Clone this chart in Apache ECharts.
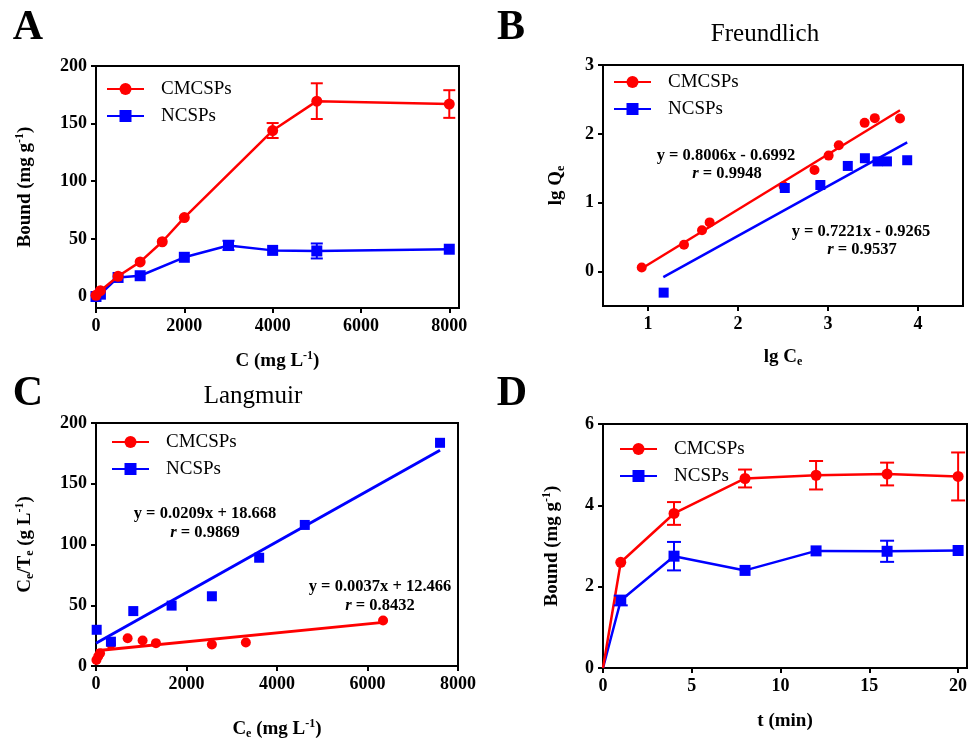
<!DOCTYPE html>
<html><head><meta charset="utf-8">
<script src="https://cdn.jsdelivr.net/npm/echarts@6/dist/echarts.min.js"></script>
<style>html,body{margin:0;padding:0;background:#fff}#c{width:971px;height:739px}</style>
</head><body><div id="c"></div>
<script>
// ---------- Panel A: binding isotherm ----------
const aRedX  = [0, 100, 500, 1000, 1500, 2000, 4000, 5000, 8000];
const aRedY  = [1, 5, 17.5, 30, 47.5, 68.5, 144, 169.5, 167];
const aRedE  = [0, 0, 0, 0, 0, 0, 6.5, 15.5, 12];
const aBlueX = [0, 100, 500, 1000, 2000, 3000, 4000, 5000, 8000];
const aBlueY = [0, 2, 16.5, 18, 34, 44.3, 40, 39.5, 41];
const aBlueE = [0, 0, 0, 0, 0, 4, 0, 6.5, 0];
// ---------- Panel B: Freundlich ----------
const bRedX  = [0.93, 1.40, 1.60, 1.685, 2.507, 2.85, 3.007, 3.12, 3.407, 3.52, 3.80];
const bRedY  = [0.058, 0.39, 0.60, 0.714, 1.24, 1.476, 1.684, 1.835, 2.16, 2.228, 2.223];
const bBlueX = [1.174, 2.52, 2.915, 3.22, 3.41, 3.55, 3.655, 3.88];
const bBlueY = [-0.306, 1.214, 1.257, 1.534, 1.646, 1.60, 1.60, 1.617];
const bRedFitX = [0.93, 3.80],  bRedFitY = [0.045, 2.343];
const bBlueFitX = [1.17, 3.88], bBlueFitY = [-0.082, 1.875];
// ---------- Panel C: Langmuir ----------
const cRedX  = [10, 50, 90, 331, 699, 1030, 1325, 2561, 3312, 6344];
const cRedY  = [5, 8, 10.5, 18.2, 22.9, 21, 18.8, 17.7, 19.3, 37.5];
const cBlueX = [15, 330, 824, 1671, 2561, 3606, 4614, 7603];
const cBlueY = [29.8, 20, 45.2, 49.7, 57.4, 89.1, 116.1, 183.7];
const cRedFitX = [0, 6344],  cRedFitY = [12.47, 35.9];
const cBlueFitX = [0, 7603], cBlueFitY = [18.67, 177.6];
// ---------- Panel D: kinetics ----------
const dX     = [0, 1, 4, 8, 12, 16, 20];
const dRedY  = [0, 2.6, 3.8, 4.66, 4.74, 4.77, 4.71];
const dRedE  = [0, 0, 0.28, 0.22, 0.35, 0.28, 0.59];
const dBlueY = [0, 1.66, 2.75, 2.40, 2.88, 2.87, 2.89];
const dBlueE = [0, 0.12, 0.35, 0, 0, 0.26, 0];
// ---------- tick labels ----------
const aXTicks = [0, 2000, 4000, 6000, 8000], aYTicks = [0, 50, 100, 150, 200];
const bXTicks = [1, 2, 3, 4], bYTicks = [0, 1, 2, 3];
const cXTicks = [0, 2000, 4000, 6000, 8000], cYTicks = [0, 50, 100, 150, 200];
const dXTicks = [0, 5, 10, 15, 20], dYTicks = [0, 2, 4, 6];

const RED = '#ff0000', BLUE = '#0000ff';
const FONT = '"Liberation Serif","Times New Roman",serif';

const zip = (xs, ys) => xs.map((x, i) => [x, ys[i]]);
const errData = (xs, ys, es) => xs.map((x, i) => [x, ys[i] - es[i], ys[i] + es[i]]).filter((d, i) => es[i] > 0);

const richName = {
  sup: {fontSize: 12, fontWeight: 'bold', fontFamily: FONT, verticalAlign: 'top', lineHeight: 22, color: '#000'},
  sub: {fontSize: 12, fontWeight: 'bold', fontFamily: FONT, verticalAlign: 'bottom', lineHeight: 16, color: '#000'}
};
function axis(idx, min, max, ticks, name, gap) {
  return {
    type: 'value', gridIndex: idx, min, max, scale: true,
    name, nameLocation: 'middle', nameGap: gap,
    nameTextStyle: {fontFamily: FONT, fontWeight: 'bold', fontSize: 19, color: '#000', rich: richName, lineHeight: 22},
    axisLine: {show: true, onZero: false, lineStyle: {color: '#000', width: 2}},
    axisTick: {show: true, inside: false, length: 5, lineStyle: {color: '#000', width: 2}, customValues: ticks},
    axisLabel: {color: '#000', fontFamily: FONT, fontWeight: 'bold', fontSize: 18, margin: 9, customValues: ticks,
      formatter: v => String(v)},
    splitLine: {show: false}
  };
}
function errRender(half) {
  return function (params, api) {
    const x = api.value(0), lo = api.value(1), hi = api.value(2);
    const p1 = api.coord([x, hi]), p2 = api.coord([x, lo]);
    const st = {stroke: api.visual('color'), lineWidth: 2};
    return {type: 'group', children: [
      {type: 'line', shape: {x1: p1[0], y1: p1[1], x2: p2[0], y2: p2[1]}, style: st},
      {type: 'line', shape: {x1: p1[0] - half, y1: p1[1], x2: p1[0] + half, y2: p1[1]}, style: st},
      {type: 'line', shape: {x1: p2[0] - half, y1: p2[1], x2: p2[0] + half, y2: p2[1]}, style: st}
    ]};
  };
}
function legend(left, top) {
  return {
    orient: 'vertical', left, top, padding: 0, itemGap: 7, itemWidth: 37, itemHeight: 15,
    data: ['CMCSPs', 'NCSPs'], selectedMode: false,
    textStyle: {fontFamily: FONT, fontSize: 19, color: '#000', lineHeight: 20, padding: [0, 0, 0, 12]}
  };
}
const gridBase = {show: true, borderColor: '#000', borderWidth: 2, backgroundColor: 'transparent', containLabel: false, outerBoundsMode: 'none'};

const series = [
  // A
  {name: 'CMCSPs', type: 'line', xAxisIndex: 0, yAxisIndex: 0, data: zip(aRedX, aRedY), symbol: 'circle', symbolSize: 11,
   itemStyle: {color: RED}, lineStyle: {color: RED, width: 2.5}, z: 3},
  {name: 'NCSPs', type: 'line', xAxisIndex: 0, yAxisIndex: 0, data: zip(aBlueX, aBlueY), symbol: 'rect', symbolSize: 11,
   itemStyle: {color: BLUE}, lineStyle: {color: BLUE, width: 2.5}, z: 2},
  {name: 'errA1', type: 'custom', xAxisIndex: 0, yAxisIndex: 0, renderItem: errRender(6), data: errData(aRedX, aRedY, aRedE),
   itemStyle: {color: RED}, encode: {x: 0, y: [1, 2]}, z: 4},
  {name: 'errA2', type: 'custom', xAxisIndex: 0, yAxisIndex: 0, renderItem: errRender(6), data: errData(aBlueX, aBlueY, aBlueE),
   itemStyle: {color: BLUE}, encode: {x: 0, y: [1, 2]}, z: 4},
  // B
  {name: 'fitB1', type: 'line', xAxisIndex: 1, yAxisIndex: 1, data: zip(bRedFitX, bRedFitY), symbol: 'none',
   lineStyle: {color: RED, width: 2.5}, z: 2},
  {name: 'fitB2', type: 'line', xAxisIndex: 1, yAxisIndex: 1, data: zip(bBlueFitX, bBlueFitY), symbol: 'none',
   lineStyle: {color: BLUE, width: 2.5}, z: 2},
  {name: 'CMCSPs', type: 'scatter', xAxisIndex: 1, yAxisIndex: 1, data: zip(bRedX, bRedY), symbol: 'circle', symbolSize: 10,
   itemStyle: {color: RED, opacity: 1}, z: 3},
  {name: 'NCSPs', type: 'scatter', xAxisIndex: 1, yAxisIndex: 1, data: zip(bBlueX, bBlueY), symbol: 'rect', symbolSize: 10,
   itemStyle: {color: BLUE, opacity: 1}, z: 3},
  // C
  {name: 'fitC1', type: 'line', xAxisIndex: 2, yAxisIndex: 2, data: zip(cRedFitX, cRedFitY), symbol: 'none',
   lineStyle: {color: RED, width: 3}, z: 2},
  {name: 'fitC2', type: 'line', xAxisIndex: 2, yAxisIndex: 2, data: zip(cBlueFitX, cBlueFitY), symbol: 'none',
   lineStyle: {color: BLUE, width: 3}, z: 2},
  {name: 'CMCSPs', type: 'scatter', xAxisIndex: 2, yAxisIndex: 2, data: zip(cRedX, cRedY), symbol: 'circle', symbolSize: 10,
   itemStyle: {color: RED, opacity: 1}, z: 3},
  {name: 'NCSPs', type: 'scatter', xAxisIndex: 2, yAxisIndex: 2, data: zip(cBlueX, cBlueY), symbol: 'rect', symbolSize: 10,
   itemStyle: {color: BLUE, opacity: 1}, z: 3},
  // D
  {name: 'CMCSPs', type: 'line', xAxisIndex: 3, yAxisIndex: 3, data: zip(dX, dRedY), symbol: 'circle',
   symbolSize: v => (v[0] === 0 ? 0 : 11), itemStyle: {color: RED}, lineStyle: {color: RED, width: 2.5}, z: 3},
  {name: 'NCSPs', type: 'line', xAxisIndex: 3, yAxisIndex: 3, data: zip(dX, dBlueY), symbol: 'rect',
   symbolSize: v => (v[0] === 0 ? 0 : 11), itemStyle: {color: BLUE}, lineStyle: {color: BLUE, width: 2.5}, z: 2},
  {name: 'errD1', type: 'custom', xAxisIndex: 3, yAxisIndex: 3, renderItem: errRender(7), data: errData(dX, dRedY, dRedE),
   itemStyle: {color: RED}, encode: {x: 0, y: [1, 2]}, z: 4},
  {name: 'errD2', type: 'custom', xAxisIndex: 3, yAxisIndex: 3, renderItem: errRender(7), data: errData(dX, dBlueY, dBlueE),
   itemStyle: {color: BLUE}, encode: {x: 0, y: [1, 2]}, z: 4}
];

function txt(x, y, text, size, weight, extra) {
  return Object.assign({type: 'text', x, y, z: 10, style: {text, fontSize: size, fontWeight: weight, fontFamily: FONT,
    fill: '#000', align: 'center', verticalAlign: 'middle',
    rich: {i: {fontStyle: 'italic', fontWeight: 'bold', fontSize: size, fontFamily: FONT}}}}, extra || {});
}

const option = {
  animation: false,
  backgroundColor: '#fff',
  grid: [
    Object.assign({left: 96, top: 66, width: 363, height: 242}, gridBase),
    Object.assign({left: 603, top: 65, width: 360, height: 241}, gridBase),
    Object.assign({left: 96, top: 423, width: 362, height: 243}, gridBase),
    Object.assign({left: 603, top: 424, width: 364, height: 244}, gridBase)
  ],
  xAxis: [
    axis(0, 0, 8220, aXTicks, 'C (mg L{sup|-1})', 42),
    axis(1, 0.5, 4.5, bXTicks, 'lg C{sub|e}', 40),
    axis(2, 0, 8000, cXTicks, 'C{sub|e} (mg L{sup|-1})', 52),
    axis(3, 0, 20.5, dXTicks, 't (min)', 42)
  ],
  yAxis: [
    axis(0, -10, 200, aYTicks, 'Bound (mg g{sup|-1})', 60),
    axis(1, -0.5, 3, bYTicks, 'lg Q{sub|e}', 36),
    axis(2, 0, 200, cYTicks, 'C{sub|e}/T{sub|e} (g L{sup|-1})', 60),
    axis(3, 0, 6, dYTicks, 'Bound (mg g{sup|-1})', 40)
  ],
  legend: [legend(106, 79), legend(613, 72), legend(111, 432), legend(619, 439)],
  series,
  graphic: [
    txt(28, 28, 'A', 42, 'bold'),
    txt(511, 28, 'B', 42, 'bold'),
    txt(28, 394, 'C', 42, 'bold'),
    txt(512, 394, 'D', 42, 'bold'),
    txt(765, 34, 'Freundlich', 25, 'normal'),
    txt(253, 396, 'Langmuir', 25, 'normal'),
    txt(726, 156, 'y = 0.8006x - 0.6992', 16.5, 'bold'),
    txt(727, 174, '{i|r} = 0.9948', 16.5, 'bold'),
    txt(861, 232, 'y = 0.7221x - 0.9265', 16.5, 'bold'),
    txt(862, 250, '{i|r} = 0.9537', 16.5, 'bold'),
    txt(205, 514, 'y = 0.0209x + 18.668', 16.5, 'bold'),
    txt(205, 533, '{i|r} = 0.9869', 16.5, 'bold'),
    txt(380, 587, 'y = 0.0037x + 12.466', 16.5, 'bold'),
    txt(380, 606, '{i|r} = 0.8432', 16.5, 'bold')
  ]
};
const chart = echarts.init(document.getElementById('c'), null, {renderer: 'canvas'});
chart.setOption(option);
</script></body></html>
